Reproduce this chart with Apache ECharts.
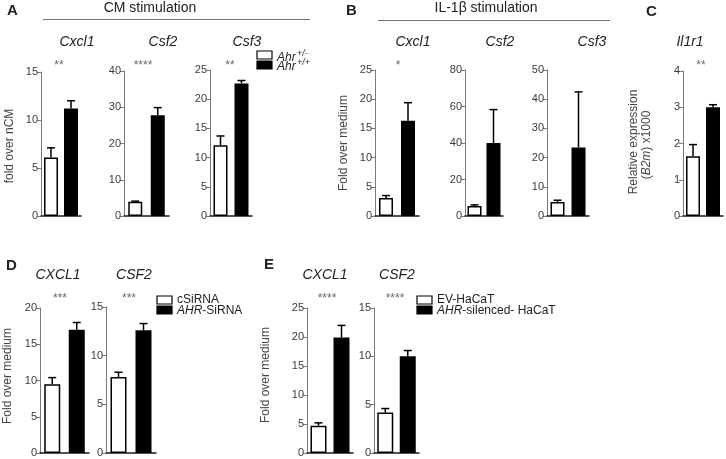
<!DOCTYPE html>
<html><head><meta charset="utf-8">
<script src="https://cdn.jsdelivr.net/npm/echarts@6/dist/echarts.min.js"></script>
<style>html,body{margin:0;padding:0;background:#fff}#c{width:726px;height:459px}</style>
</head><body><div id="c"></div>
<script>
// ---------------- data ----------------
const genesA = ['Cxcl1', 'Csf2', 'Csf3'];
const hetA = [6.1, 3.9, 12.1];
const hetA_sem = [1.0, 0.2, 1.6];
const wtA = [11.2, 27.8, 22.7];
const wtA_sem = [0.8, 2.1, 0.5];
const maxA = [15, 40, 25];
const stepA = [5, 10, 5];
const starsA = ['**', '****', '**'];

const genesB = ['Cxcl1', 'Csf2', 'Csf3'];
const hetB = [3.1, 5.5, 4.8];
const hetB_sem = [0.4, 0.6, 0.6];
const wtB = [16.3, 40.0, 23.5];
const wtB_sem = [3.1, 18.3, 19.0];
const maxB = [25, 80, 50];
const stepB = [5, 20, 10];
const starsB = ['*', '', ''];

const genesC = ['Il1r1'];
const hetC = [1.65];
const hetC_sem = [0.32];
const wtC = [3.0];
const wtC_sem = [0.07];
const maxC = [4];
const stepC = [1];
const starsC = ['**'];

const genesD = ['CXCL1', 'CSF2'];
const ctrlD = [9.5, 7.8];
const ctrlD_sem = [0.9, 0.5];
const siD = [17.0, 12.6];
const siD_sem = [1.0, 0.7];
const maxD = [20, 15];
const stepD = [5, 5];
const starsD = ['***', '***'];

const genesE = ['CXCL1', 'CSF2'];
const evE = [4.7, 4.2];
const evE_sem = [0.5, 0.4];
const silE = [19.9, 10.0];
const silE_sem = [2.1, 0.6];
const maxE = [25, 15];
const stepE = [5, 5];
const starsE = ['****', '****'];

const groupsMouse = ['Ahr+/-', 'Ahr+/+'];
const groupsD = ['cSiRNA', 'AHR-SiRNA'];
const groupsE = ['EV-HaCaT', 'AHR-silenced- HaCaT'];

// ---------------- panels ----------------
const panels = [];
function addPanels(genes, w, ws, b, bs, mx, st, stars, cats) {
  genes.forEach((g, i) => panels.push({ gene: g, white: w[i], whiteSem: ws[i], black: b[i], blackSem: bs[i], max: mx[i], step: st[i], stars: stars[i], cats }));
}
addPanels(genesA, hetA, hetA_sem, wtA, wtA_sem, maxA, stepA, starsA, groupsMouse);
addPanels(genesB, hetB, hetB_sem, wtB, wtB_sem, maxB, stepB, starsB, groupsMouse);
addPanels(genesC, hetC, hetC_sem, wtC, wtC_sem, maxC, stepC, starsC, groupsMouse);
addPanels(genesD, ctrlD, ctrlD_sem, siD, siD_sem, maxD, stepD, starsD, groupsD);
addPanels(genesE, evE, evE_sem, silE, silE_sem, maxE, stepE, starsE, groupsE);

// layout: left, top, width, height, barWidth, titleX, titleY, starsX, starsY
const layout = [
  [41, 72, 40, 144, 14, 77, 42, 59, 65],
  [124, 71, 45, 145, 14, 163, 42, 143, 65],
  [210, 70, 42, 146, 14, 247, 42, 230, 65],
  [375, 70, 44, 146, 14, 413, 42, 398, 65],
  [465, 70, 38, 146, 14, 500, 42, 484, 65],
  [547, 70, 42, 146, 14, 592, 42, 568, 65],
  [683, 71, 40, 145, 14, 690, 42, 701, 65],
  [40, 308, 49, 145, 16, 58, 275, 60, 298],
  [106, 307, 50, 146, 16, 134, 275, 129, 298],
  [307, 308, 46, 145, 16, 325, 275, 327, 298],
  [374, 308, 45, 145, 16, 397, 275, 395, 298]
];

const FONT = '"Liberation Sans", Arial, sans-serif';
const grid = [], xAxis = [], yAxis = [], series = [], graphic = [];

panels.forEach((p, i) => {
  const [l, t, w, h, bw, tx, ty, sx, sy] = layout[i];
  grid.push({ left: l, top: t, width: w, height: h, containLabel: false });
  xAxis.push({
    type: 'category', gridIndex: i, data: p.cats,
    axisLine: { lineStyle: { color: '#1a1a1a', width: 1.5 } },
    axisTick: { show: false }, axisLabel: { show: false }, splitLine: { show: false }
  });
  yAxis.push({
    type: 'value', gridIndex: i, min: 0, max: p.max, interval: p.step,
    axisLine: { show: true, lineStyle: { color: '#7a7a7a', width: 1 } },
    axisTick: { show: true, length: 4, lineStyle: { color: '#7a7a7a', width: 1 } },
    axisLabel: { fontSize: 11, color: '#3a3a3a', margin: 3, fontFamily: FONT },
    splitLine: { show: false }
  });
  series.push({
    type: 'bar', xAxisIndex: i, yAxisIndex: i, barWidth: bw, z: 2,
    data: [
      { value: p.white, itemStyle: { color: '#ffffff', borderColor: '#000', borderWidth: 1.5 } },
      { value: p.black, itemStyle: { color: '#000000' } }
    ]
  });
  series.push({
    type: 'custom', xAxisIndex: i, yAxisIndex: i, z: 3,
    encode: { x: 0, y: [1, 2] },
    data: [[0, p.white, p.white + p.whiteSem], [1, p.black, p.black + p.blackSem]],
    renderItem: function (params, api) {
      const x = api.value(0), v = api.value(1), top = api.value(2);
      const a = api.coord([x, v]), b = api.coord([x, top]);
      return {
        type: 'group', children: [
          { type: 'line', shape: { x1: a[0], y1: a[1], x2: b[0], y2: b[1] }, style: { stroke: '#000', lineWidth: 1.5 } },
          { type: 'line', shape: { x1: b[0] - 4, y1: b[1], x2: b[0] + 4, y2: b[1] }, style: { stroke: '#000', lineWidth: 1.5 } }
        ]
      };
    }
  });
  graphic.push({ type: 'text', x: tx, y: ty, style: { text: p.gene, font: 'italic 14px ' + FONT, fill: '#222', textAlign: 'center', textVerticalAlign: 'middle' } });
  if (p.stars) graphic.push({ type: 'text', x: sx, y: sy + 1, style: { text: p.stars, font: '12px ' + FONT, fill: '#6a6a6a', textAlign: 'center', textVerticalAlign: 'middle' } });
});

function txt(x, y, text, font, extra) {
  return Object.assign({ type: 'text', x, y, style: Object.assign({ text, font, fill: '#222', textAlign: 'left', textVerticalAlign: 'middle' }, extra || {}) });
}
// panel letters and headers
graphic.push(txt(7, 11, 'A', 'bold 15px ' + FONT));
graphic.push(txt(346, 11, 'B', 'bold 15px ' + FONT));
graphic.push(txt(646, 12, 'C', 'bold 15px ' + FONT));
graphic.push(txt(6, 266, 'D', 'bold 15px ' + FONT));
graphic.push(txt(264, 265, 'E', 'bold 15px ' + FONT));
graphic.push(txt(150, 8, 'CM stimulation', '14px ' + FONT, { textAlign: 'center' }));
graphic.push(txt(486, 8, 'IL-1β stimulation', '14px ' + FONT, { textAlign: 'center' }));
graphic.push({ type: 'line', shape: { x1: 43, y1: 19.5, x2: 310, y2: 19.5 }, style: { stroke: '#777', lineWidth: 1 } });
graphic.push({ type: 'line', shape: { x1: 378, y1: 20.5, x2: 610, y2: 20.5 }, style: { stroke: '#777', lineWidth: 1 } });

// y-axis names (rotated)
function rot(x, y, text, rich) {
  return { type: 'text', x, y, rotation: Math.PI / 2, style: { text, font: '12px ' + FONT, fill: '#444', textAlign: 'center', textVerticalAlign: 'middle', rich } };
}
graphic.push(rot(10, 146, 'fold over nCM'));
graphic.push(rot(344, 143, 'Fold over medium'));
graphic.push(rot(634, 142, 'Relative expression'));
graphic.push(rot(647, 145, '({i|B2m}) x1000', { i: { font: 'italic 12px ' + FONT, fill: '#444' } }));
graphic.push(rot(8, 376, 'Fold over medium'));
graphic.push(rot(266, 375, 'Fold over medium'));

// legends
function sq(x, y, w, h, fill) {
  return { type: 'rect', shape: { x, y, width: w, height: h }, style: { fill, stroke: '#000', lineWidth: 1.2 } };
}
graphic.push(sq(257, 51, 15, 8, '#fff'));
graphic.push(sq(257, 61, 15, 8, '#000'));
graphic.push(txt(277, 58, 'Ahr', 'italic 12px ' + FONT));
graphic.push(txt(297, 53, '+/-', 'italic 9px ' + FONT));
graphic.push(txt(277, 67, 'Ahr', 'italic 12px ' + FONT));
graphic.push(txt(297, 62, '+/+', 'italic 9px ' + FONT));

graphic.push(sq(157, 296, 15, 8, '#fff'));
graphic.push(sq(157, 306, 15, 8, '#000'));
graphic.push(txt(177, 300, groupsD[0], '12px ' + FONT));
graphic.push(txt(177, 311, '{i|AHR}-SiRNA', '12px ' + FONT, { rich: { i: { font: 'italic 12px ' + FONT, fill: '#222' } } }));

graphic.push(sq(417, 296, 15, 8, '#fff'));
graphic.push(sq(417, 306, 15, 8, '#000'));
graphic.push(txt(437, 300, groupsE[0], '12px ' + FONT));
graphic.push(txt(437, 311, '{i|AHR}-silenced- HaCaT', '12px ' + FONT, { rich: { i: { font: 'italic 12px ' + FONT, fill: '#222' } } }));

const chart = echarts.init(document.getElementById('c'), null, { renderer: 'canvas' });
chart.setOption({ animation: false, backgroundColor: '#fff', grid, xAxis, yAxis, series, graphic });
</script></body></html>
